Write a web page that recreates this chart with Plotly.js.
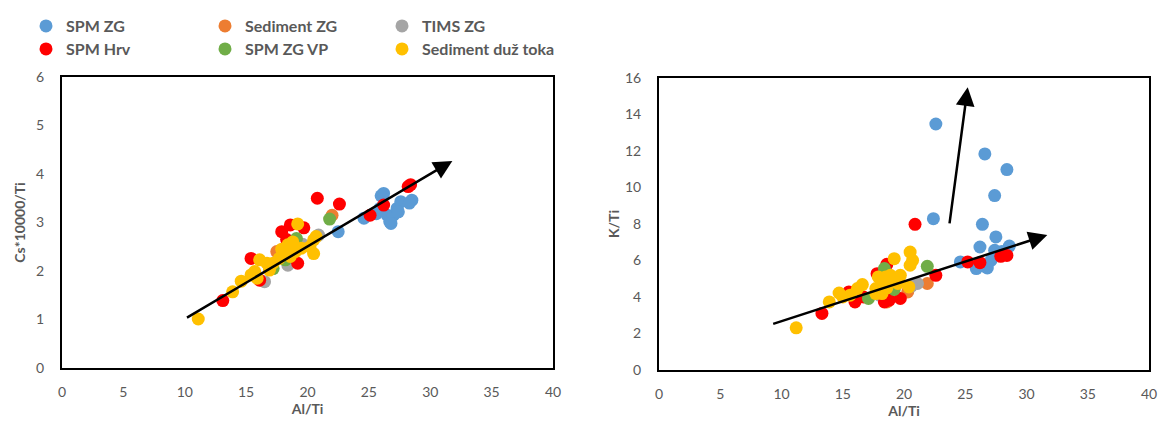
<!DOCTYPE html>
<html>
<head>
<meta charset="utf-8">
<script src="https://cdn.plot.ly/plotly-3.0.1.min.js"></script>
<style>html,body{margin:0;padding:0;background:#fff;}#chart{width:1158px;height:423px;}</style>
</head>
<body>
<div id="chart"></div>
<script>
// ---- Data ----
const seriesNames = ["SPM ZG", "Sediment ZG", "TIMS ZG", "SPM Hrv", "SPM ZG VP", "Sediment duž toka"];
const seriesColors = ["#5B9BD5", "#ED7D31", "#A5A5A5", "#FF0000", "#70AD47", "#FFC000"];

// Left chart: Al/Ti vs Cs*10000/Ti
const spmZG_AlTi_L = [22.5, 24.6, 25.9, 26.2, 26.0, 26.5, 26.7, 27.0, 27.3, 27.6, 28.5, 26.8, 27.4, 28.3, 25.6];
const spmZG_Cs     = [2.81, 3.09, 3.29, 3.60, 3.55, 3.15, 3.02, 3.15, 3.29, 3.43, 3.46, 2.98, 3.22, 3.40, 3.18];
const sedZG_AlTi_L = [22.0, 17.5, 18.9];
const sedZG_Cs     = [3.15, 2.40, 2.45];
const tims_AlTi_L  = [20.9, 18.4, 16.5, 19.6];
const tims_Cs      = [2.74, 2.12, 1.78, 2.55];
const hrv_AlTi_L   = [13.1, 15.4, 16.1, 17.9, 18.6, 19.7, 19.2, 18.3, 20.8, 22.6, 25.1, 26.2, 28.2, 28.4];
const hrv_Cs       = [1.39, 2.26, 1.81, 2.81, 2.95, 2.89, 2.16, 2.65, 3.50, 3.38, 3.15, 3.36, 3.74, 3.78];
const vp_AlTi_L    = [21.8, 19.1, 18.2, 17.2];
const vp_Cs        = [3.07, 2.67, 2.23, 2.05];
const tok_AlTi_L   = [11.1, 13.9, 14.6, 15.4, 15.7, 16.1, 16.7, 16.9, 17.2, 17.7, 18.0, 18.4, 18.8, 19.2, 19.5, 20.2, 20.5, 20.7, 20.5, 15.9, 19.0, 18.6, 17.9];
const tok_Cs       = [1.01, 1.57, 1.79, 1.92, 1.99, 2.23, 2.16, 2.02, 2.16, 2.26, 2.36, 2.54, 2.60, 2.97, 2.47, 2.50, 2.64, 2.71, 2.36, 1.85, 2.40, 2.30, 2.45];

// Right chart: Al/Ti vs K/Ti
const spmZG_AlTi_R = [22.6, 26.6, 28.4, 27.4, 22.4, 26.4, 27.5, 26.2, 28.6, 27.4, 24.6, 25.9, 26.8, 26.5, 27.1, 28.0];
const spmZG_K      = [13.48, 11.84, 10.98, 9.56, 8.29, 7.98, 7.29, 6.74, 6.79, 6.56, 5.92, 5.56, 5.59, 5.70, 6.00, 6.50];
const sedZG_AlTi_R = [21.9, 18.6, 20.3];
const sedZG_K      = [4.74, 3.73, 4.28];
const tims_AlTi_R  = [21.1, 20.6, 18.0];
const tims_K       = [4.74, 4.60, 4.10];
const hrv_AlTi_R   = [13.3, 15.5, 16.0, 16.7, 17.8, 18.6, 18.4, 18.8, 19.7, 20.9, 22.6, 25.2, 26.2, 27.9, 28.4];
const hrv_K        = [3.10, 4.28, 3.73, 4.00, 5.28, 5.79, 3.73, 3.83, 3.92, 7.98, 5.19, 5.92, 5.88, 6.23, 6.28];
const vp_AlTi_R    = [21.9, 18.4, 17.1, 19.2];
const vp_K         = [5.68, 5.56, 3.92, 4.41];
const tok_AlTi_R   = [11.2, 13.9, 14.7, 15.6, 16.2, 16.6, 17.7, 18.2, 17.7, 17.9, 18.5, 18.9, 19.7, 19.2, 18.4, 19.5, 20.4, 20.5, 20.7, 20.5, 19.0, 15.0, 18.6];
const tok_K        = [2.31, 3.73, 4.22, 4.10, 4.46, 4.68, 4.46, 4.19, 4.19, 5.10, 5.10, 5.19, 5.19, 6.10, 4.74, 4.74, 4.55, 6.46, 6.01, 5.74, 4.90, 4.00, 4.50];

// Trend arrows [x0, y0, x1, y1] in data units
const arrowLeft    = [10.06, 1.02, 31.8, 4.27];
const arrowRightLo = [9.2, 2.5, 31.7, 7.4];
const arrowRightUp = [23.7, 7.95, 25.2, 15.5];

const xTickVals = [0, 5, 10, 15, 20, 25, 30, 35, 40];
const yTickValsL = [0, 1, 2, 3, 4, 5, 6];
const yTickValsR = [0, 2, 4, 6, 8, 10, 12, 14, 16];

// ---- Traces ----
const leftX = [spmZG_AlTi_L, sedZG_AlTi_L, tims_AlTi_L, hrv_AlTi_L, vp_AlTi_L, tok_AlTi_L];
const leftY = [spmZG_Cs, sedZG_Cs, tims_Cs, hrv_Cs, vp_Cs, tok_Cs];
const rightX = [spmZG_AlTi_R, sedZG_AlTi_R, tims_AlTi_R, hrv_AlTi_R, vp_AlTi_R, tok_AlTi_R];
const rightY = [spmZG_K, sedZG_K, tims_K, hrv_K, vp_K, tok_K];

const legendIds = ['legend', 'legend2', 'legend3', 'legend4', 'legend5', 'legend6'];

const traces = [];
for (let i = 0; i < seriesNames.length; i++) {
  traces.push({
    type: 'scatter', mode: 'markers', name: seriesNames[i],
    x: leftX[i], y: leftY[i], xaxis: 'x', yaxis: 'y',
    marker: {color: seriesColors[i], size: 13},
    legendgroup: 'g' + i, legend: legendIds[i],
    hoverinfo: 'x+y+name'
  });
}
for (let i = 0; i < seriesNames.length; i++) {
  traces.push({
    type: 'scatter', mode: 'markers', name: seriesNames[i],
    x: rightX[i], y: rightY[i], xaxis: 'x2', yaxis: 'y2',
    marker: {color: seriesColors[i], size: 13},
    legendgroup: 'g' + i, showlegend: false,
    hoverinfo: 'x+y+name'
  });
}

const W = 1158, H = 423;
const tickFont = {family: 'Lato, "Liberation Sans", sans-serif', size: 14, color: '#595959'};
const titleFont = {family: 'Lato, "Liberation Sans", sans-serif', size: 14, color: '#595959', weight: 700};
const legendFont = {family: 'Lato, "Liberation Sans", sans-serif', size: 16, color: '#595959', weight: 700};

function xAxis(domain, anchor) {
  return {
    domain: domain, anchor: anchor, range: [0, 40], tickvals: xTickVals,
    showgrid: false, zeroline: false, showline: true, mirror: true,
    linecolor: '#000', linewidth: 2, ticks: '', tickfont: tickFont,
    ticklabelstandoff: 10,
    title: {text: 'Al/Ti', font: titleFont, standoff: 1}
  };
}
function yAxis(domain, anchor, range, vals, title, standoff) {
  return {
    domain: domain, anchor: anchor, range: range, tickvals: vals,
    showgrid: false, zeroline: false, showline: true, mirror: true,
    linecolor: '#000', linewidth: 2, ticks: '', tickfont: tickFont,
    ticklabelstandoff: 13,
    title: {text: title, font: titleFont, standoff: standoff}
  };
}

function arrow(a, xr, yr) {
  return {
    x: a[2], y: a[3], ax: a[0], ay: a[1], xref: xr, yref: yr, axref: xr, ayref: yr,
    showarrow: true, arrowhead: 2, arrowsize: 1.5, arrowwidth: 2.5, arrowcolor: '#000', text: ''
  };
}

// legend column left edges and row centres (px)
const legendColX = [26, 205, 382];
const legendRowY = [26, 49];
function legendBox(i) {
  return {
    x: legendColX[i % 3] / W, xanchor: 'left',
    y: 1 - legendRowY[Math.floor(i / 3)] / H, yanchor: 'middle',
    font: legendFont, bgcolor: 'rgba(0,0,0,0)',
    itemclick: false, itemdoubleclick: false
  };
}

const layout = {
  width: W, height: H,
  margin: {l: 0, r: 0, t: 0, b: 0},
  paper_bgcolor: '#fff', plot_bgcolor: '#fff',
  xaxis: xAxis([62 / W, 553 / W], 'y'),
  yaxis: yAxis([1 - 368 / H, 1 - 77 / H], 'x', [0, 6], yTickValsL, 'Cs*10000/Ti', 7),
  xaxis2: xAxis([659 / W, 1149 / W], 'y2'),
  yaxis2: yAxis([1 - 370 / H, 1 - 78 / H], 'x2', [0, 16], yTickValsR, 'K/Ti', 2),
  annotations: [
    arrow(arrowLeft, 'x', 'y'),
    arrow(arrowRightLo, 'x2', 'y2'),
    arrow(arrowRightUp, 'x2', 'y2')
  ],
  showlegend: true
};
for (let i = 0; i < legendIds.length; i++) layout[legendIds[i]] = legendBox(i);

Plotly.newPlot('chart', traces, layout, {displayModeBar: false});
</script>
</body>
</html>
